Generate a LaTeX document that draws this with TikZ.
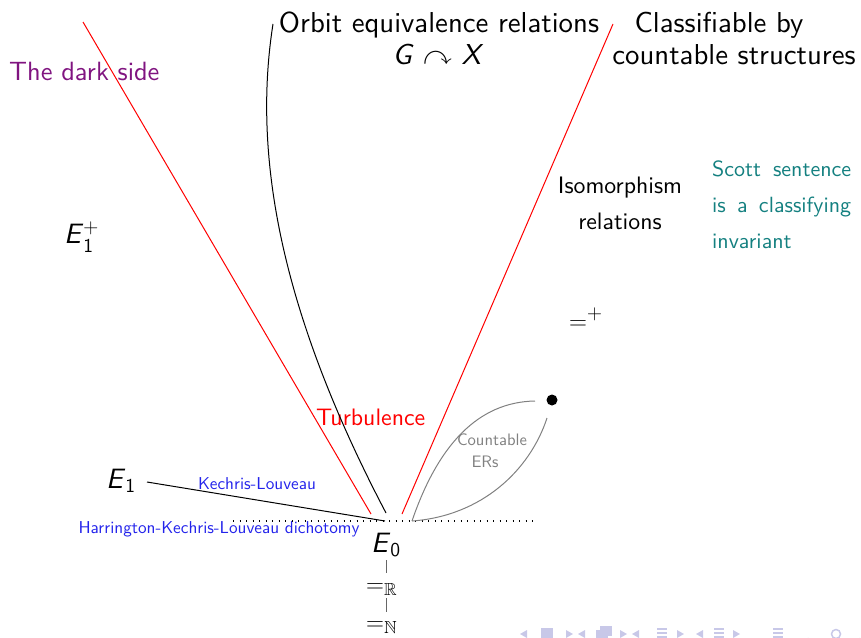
\documentclass[tikz,border=0pt]{standalone}
\usepackage{amsmath,amssymb}
\usepackage{fontspec}
\setsansfont{lmsans10-regular.otf}[ItalicFont=lmsans10-oblique.otf,BoldFont=lmsans10-bold.otf]
\definecolor{darkpurple}{RGB}{128,20,128}
\definecolor{myteal}{RGB}{20,128,128}
\definecolor{myblue}{RGB}{35,35,235}
\definecolor{navcol}{RGB}{200,200,232}
\begin{document}
\begin{tikzpicture}[x=1pt,y=-1pt,
  every node/.style={inner sep=0pt},
  big/.style={font=\sffamily\fontsize{28.8}{34}\selectfont},
  dark/.style={font=\sffamily\fontsize{26.4}{31}\selectfont},
  med/.style={font=\sffamily\fontsize{23.8}{29}\selectfont},
  scott/.style={font=\sffamily\fontsize{22}{26}\selectfont,text=myteal},
  tiny blue/.style={font=\sffamily\fontsize{17.2}{20}\selectfont,text=myblue},
  graytext/.style={font=\sffamily\fontsize{16.6}{19}\selectfont,text=black!50},
  mathbig/.style={font=\sffamily\fontsize{28}{33}\selectfont},
  eqsize/.style={font=\sffamily\fontsize{25}{30}\selectfont},
  thin line/.style={line width=1pt},
  navshape/.style={fill=navcol,draw=none}]
\useasboundingbox (0,0) rectangle (861,637);
\clip (0,0) rectangle (861,637);

% texts
\node[big,anchor=base] (orbit) at (439,32) {Orbit equivalence relations};
\node[big,anchor=base] (gx) at (438,64) {\textit{G} $\curvearrowright$ \textit{X}};
\node[big,anchor=base] (classif) at (719,32) {Classifiable by};
\node[big,anchor=base] (cstruct) at (734,64) {countable structures};
\node[dark,anchor=base west,text=darkpurple] (darkside) at (9,80) {The dark side};
\node[med,anchor=base] (iso1) at (620,193) {Isomorphism};
\node[med,anchor=base] (iso2) at (620,229) {relations};
\node[scott,anchor=base west] (sc1) at (712,176) {\makebox[139pt][s]{Scott sentence}};
\node[scott,anchor=base west] (sc2) at (712,212) {\makebox[139pt][s]{is a classifying}};
\node[scott,anchor=base west] (sc3) at (712,248) {invariant};
\node[mathbig,anchor=base west] (e1p) at (64,243) {\textit{E}$_{\textsf{1}}^{+}$};
\node[mathbig,anchor=base west] (eqp) at (569,329) {$=^{+}$};
\node[med,anchor=base west,text=red] (turb) at (316,425) {Turbulence};
\node[graytext,anchor=base] (count1) at (492,445) {Countable};
\node[graytext,anchor=base] (count2) at (485,467) {ERs};
\node[mathbig,anchor=base west] (e1) at (106,488) {\textit{E}$_{\textsf{1}}$};
\node[tiny blue,anchor=base] (kl) at (257,489) {Kechris-Louveau};
\node[tiny blue,anchor=base] (hkl) at (219,533) {Harrington-Kechris-Louveau dichotomy};
\node[mathbig,anchor=base west] (e0) at (371,552) {\textit{E}$_{\textsf{0}}$};
\node[eqsize,anchor=base west] (eqr) at (366,592) {$=_{\mathbb{R}}$};
\node[eqsize,anchor=base west] (eqn) at (366,630) {$=_{\mathbb{N}}$};

% coordinates
\coordinate (darktop) at (83,22);
\coordinate (redleftbot) at (371,514);
\coordinate (redrighttop) at (613,24);
\coordinate (redrightbot) at (402,514);
\coordinate (blacktop) at (273,24);
\coordinate (blackbot) at (386,513);
\coordinate (e1start) at (147,482);
\coordinate (apex) at (385,521);
\coordinate (dotl) at (233,521);
\coordinate (dotr) at (537,521);
\coordinate (leafbot) at (412,521);
\coordinate (leafup) at (535,401);
\coordinate (leaflow) at (547,418);

% lines
\draw[thin line,red] (darktop) -- (redleftbot);
\draw[thin line,red] (redrighttop) -- (redrightbot);
\draw[thin line,black] (blacktop) .. controls (250,170) and (290,330) .. (blackbot);
\draw[thin line,black] (e1start) -- (apex);
\draw[line width=1.1pt,dash pattern=on 1.1pt off 5.4pt] (dotl) -- (dotr);
\draw[thin line,black!50] (leafbot) .. controls (438,445) and (478,402) .. (leafup);
\draw[thin line,black!50] (leafbot) .. controls (482,516) and (530,470) .. (leaflow);
\fill (552,400) circle (5.5pt);

\draw[thin line,black!60] (386,560) coordinate (v1a) -- (386,573) coordinate (v1b);
\draw[thin line,black!60] (386,598) coordinate (v2a) -- (386,612) coordinate (v2b);

% navigation symbols (faint)
\begin{scope}[navshape]
\fill (520,634) -- (527,630) -- (527,638) -- cycle;
\fill (541,628) rectangle (553,640);
\fill (566,630) -- (573,634) -- (566,638) -- cycle;
\fill (578,634) -- (585,630) -- (585,638) -- cycle;
\fill (596,630) rectangle (608,640);
\fill (600,626) rectangle (612,636);
\fill (620,630) -- (627,634) -- (620,638) -- cycle;
\fill (632,634) -- (639,630) -- (639,638) -- cycle;
\fill (657,628) rectangle (667,630);
\fill (657,632) rectangle (667,634);
\fill (657,636) rectangle (667,638);
\fill (677,630) -- (684,634) -- (677,638) -- cycle;
\fill (696,634) -- (703,630) -- (703,638) -- cycle;
\fill (714,628) rectangle (724,630);
\fill (714,632) rectangle (724,634);
\fill (714,636) rectangle (724,638);
\fill (733,630) -- (740,634) -- (733,638) -- cycle;
\fill (773,628) rectangle (783,630);
\fill (773,632) rectangle (783,634);
\fill (773,636) rectangle (783,638);
\end{scope}
\draw[navcol,line width=1.5pt] (820,640) arc (0:200:6);
\draw[navcol,line width=1.5pt] (836,634) circle (4.5);
\draw[navcol,line width=1.5pt] (848,640) arc (180:-20:6);
\end{tikzpicture}
\end{document}
